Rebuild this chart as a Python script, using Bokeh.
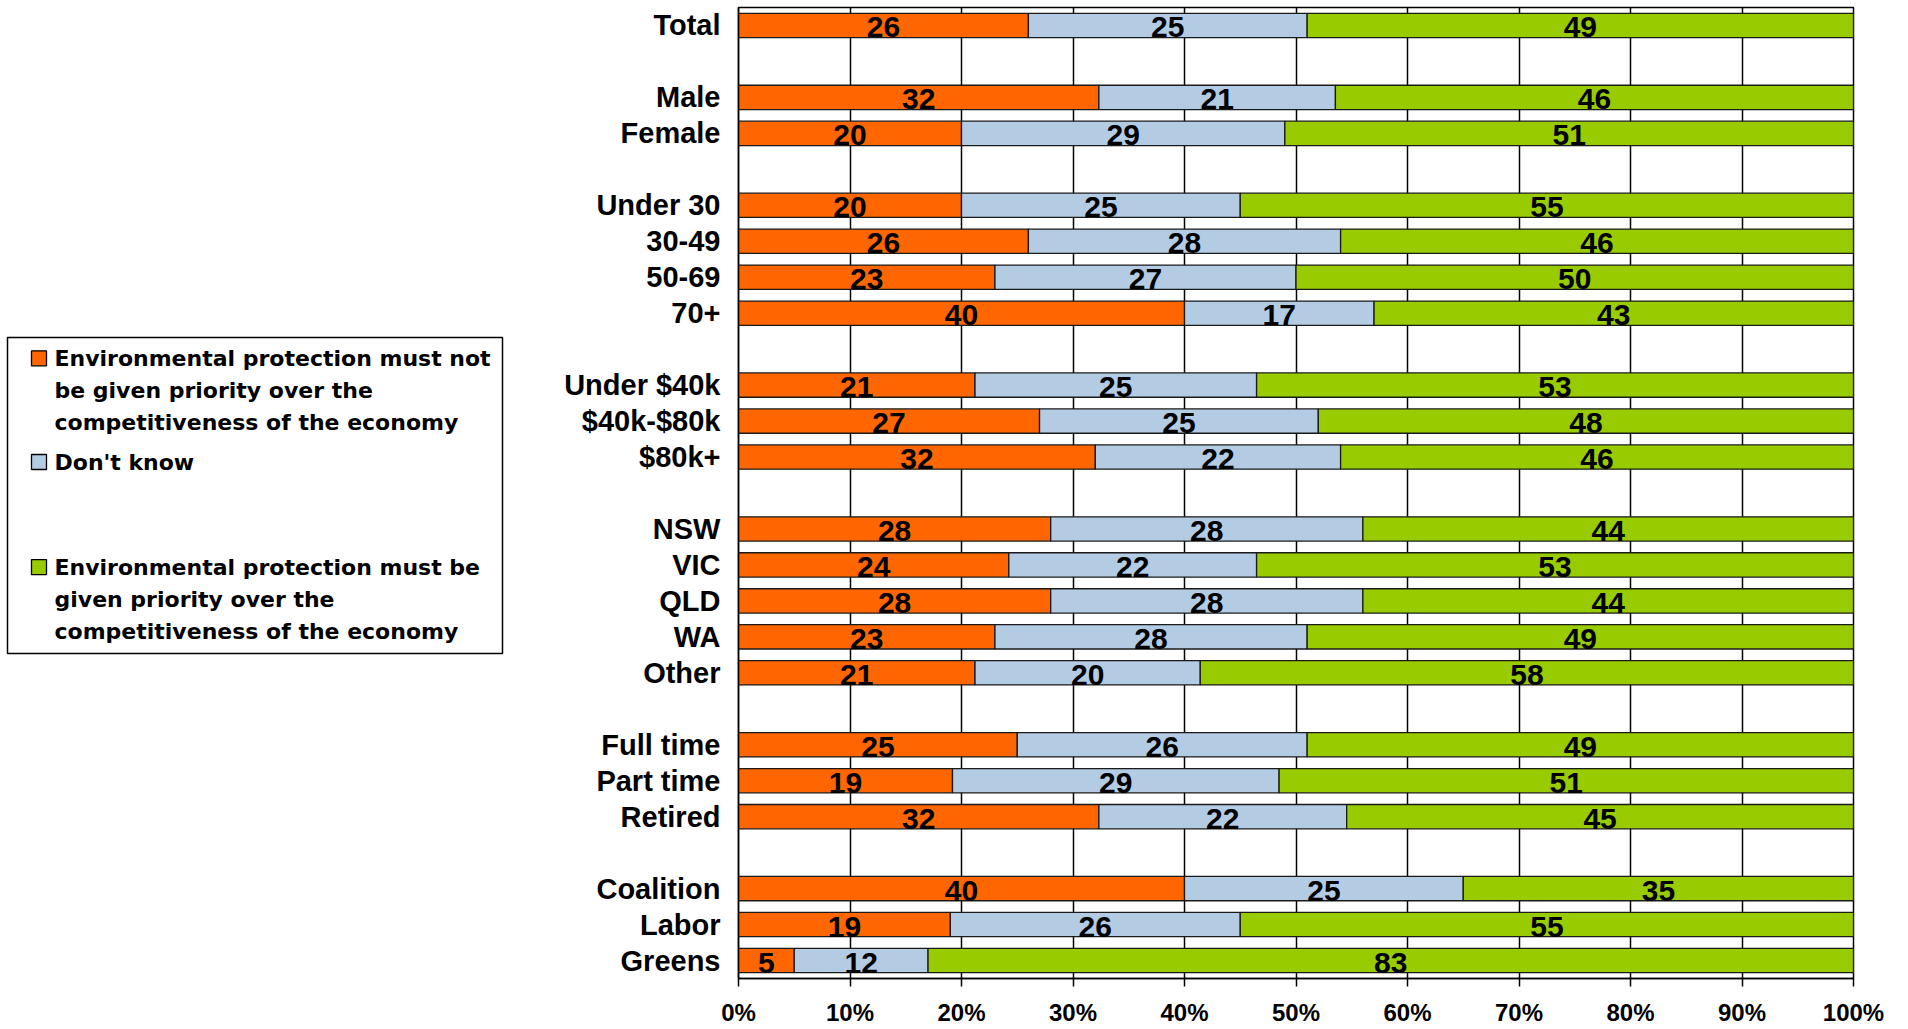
from bokeh.plotting import figure
from bokeh.models import FactorRange, Range1d, FixedTicker, PrintfTickFormatter, ColumnDataSource
from bokeh.layouts import row
from bokeh.embed import file_html
from bokeh.resources import INLINE
from bokeh.core.properties import value

# ---------------- data ----------------
groups = [
    ["Total"],
    ["Male", "Female"],
    ["Under 30", "30-49", "50-69", "70+"],
    ["Under $40k", "$40k-$80k", "$80k+"],
    ["NSW", "VIC", "QLD", "WA", "Other"],
    ["Full time", "Part time", "Retired"],
    ["Coalition", "Labor", "Greens"],
]
not_priority = [26, 32, 20, 20, 26, 23, 40, 21, 27, 32, 28, 24, 28, 23, 21, 25, 19, 32, 40, 19, 5]
dont_know = [25, 21, 29, 25, 28, 27, 17, 25, 25, 22, 28, 22, 28, 28, 20, 26, 29, 22, 25, 26, 12]
priority = [49, 46, 51, 55, 46, 50, 43, 53, 48, 46, 44, 53, 44, 49, 58, 49, 51, 45, 35, 55, 83]
x_ticks = [0, 10, 20, 30, 40, 50, 60, 70, 80, 90, 100]

legend_labels = [
    ["Environmental protection must not", "be given priority over the", "competitiveness of the economy"],
    ["Don't know"],
    ["Environmental protection must be", "given priority over the", "competitiveness of the economy"],
]
colors = ["#FF6600", "#B3CCE4", "#99CC00"]

FONT = value("Liberation Sans")

# ---------------- layout constants (page pixels) ----------------
W_LEG = 540
W_MAIN = 1360
H = 1029
FRAME_TOP = 7
FRAME_BOTTOM = 978
FRAME_LEFT = 738
FRAME_RIGHT = 1853

# ---------------- main chart ----------------
categories = [c for g in groups for c in g]
factors = []
for gi, g in enumerate(groups):
    if gi > 0:
        factors.append(" " * gi)
    factors.extend(g)

series = [not_priority, dont_know, priority]
totals = [a + b + c for a, b, c in zip(*series)]

p = figure(width=W_MAIN, height=H,
           y_range=FactorRange(factors=factors[::-1]),
           x_range=Range1d(0, 100),
           toolbar_location=None, output_backend="svg",
           min_border_left=FRAME_LEFT - W_LEG,
           min_border_right=W_LEG + W_MAIN - FRAME_RIGHT,
           min_border_top=FRAME_TOP, min_border_bottom=0)

lefts = [0.0] * len(categories)
for s, col in zip(series, colors):
    share = [v * 100.0 / t for v, t in zip(s, totals)]
    rights = [l + w for l, w in zip(lefts, share)]
    src = ColumnDataSource(dict(
        cat=categories, left=lefts, right=rights,
        mid=[(l + r) / 2 for l, r in zip(lefts, rights)],
        label=[str(v) for v in s]))
    p.hbar(y="cat", left="left", right="right", height=0.676, source=src,
           fill_color=col, line_color="#1a1a1a", line_width=1.3)
    p.text(x="mid", y="cat", text="label", source=src,
           text_font=FONT, text_font_style="bold", text_font_size="30px",
           text_align="center", text_baseline="middle", y_offset=2,
           text_color="black")
    lefts = rights

p.outline_line_color = "black"
p.outline_line_width = 1.5
p.ygrid.visible = False
p.xgrid.ticker = FixedTicker(ticks=x_ticks)
p.xgrid.grid_line_color = "black"
p.xgrid.grid_line_width = 1.5

xa = p.xaxis[0]
xa.ticker = FixedTicker(ticks=x_ticks)
xa.formatter = PrintfTickFormatter(format="%d%%")
xa.axis_line_color = "black"
xa.axis_line_width = 1.5
xa.major_tick_line_color = "black"
xa.major_tick_line_width = 1.5
xa.major_tick_out = 8
xa.major_tick_in = 0
xa.minor_tick_line_color = None
xa.major_label_standoff = 12
xa.major_label_text_font = "Liberation Sans"
xa.major_label_text_font_style = "bold"
xa.major_label_text_font_size = "24px"
xa.major_label_text_color = "black"

ya = p.yaxis[0]
ya.axis_line_color = "black"
ya.axis_line_width = 1.5
ya.major_tick_line_color = None
ya.major_tick_out = 0
ya.major_tick_in = 0
ya.major_label_standoff = 18
ya.major_label_text_font = "Liberation Sans"
ya.major_label_text_font_style = "bold"
ya.major_label_text_font_size = "29px"
ya.major_label_text_color = "black"

# ---------------- legend panel (coordinates = page pixels) ----------------
lg = figure(width=W_LEG, height=H, x_range=Range1d(0, W_LEG),
            y_range=Range1d(FRAME_BOTTOM, FRAME_TOP),
            toolbar_location=None, output_backend="svg",
            min_border_left=0, min_border_right=0,
            min_border_top=FRAME_TOP, min_border_bottom=H - FRAME_BOTTOM,
            x_axis_location=None, y_axis_location=None)
lg.grid.visible = False
lg.outline_line_color = None

lg.quad(left=7, right=502, top=337, bottom=653,
        fill_color="white", line_color="black", line_width=1.5)

marker_y = [357.8, 461.5, 566.6]
line_step = 31.7
lx, ly, lt = [], [], []
for items, my in zip(legend_labels, marker_y):
    for k, t in enumerate(items):
        lx.append(54)
        ly.append(my + 0.5 + k * line_step)
        lt.append(t)
lg.rect(x=38.5, y=marker_y, width=15, height=15, fill_color=colors,
        line_color="black", line_width=1.3)
lg.text(x=lx, y=ly, text=lt, text_font=value("DejaVu Sans"), text_font_style="bold",
        text_font_size="22px", text_baseline="middle", text_align="left",
        text_color="black")

layout = row(lg, p)
open("out.html", "w").write(file_html(layout, INLINE))
